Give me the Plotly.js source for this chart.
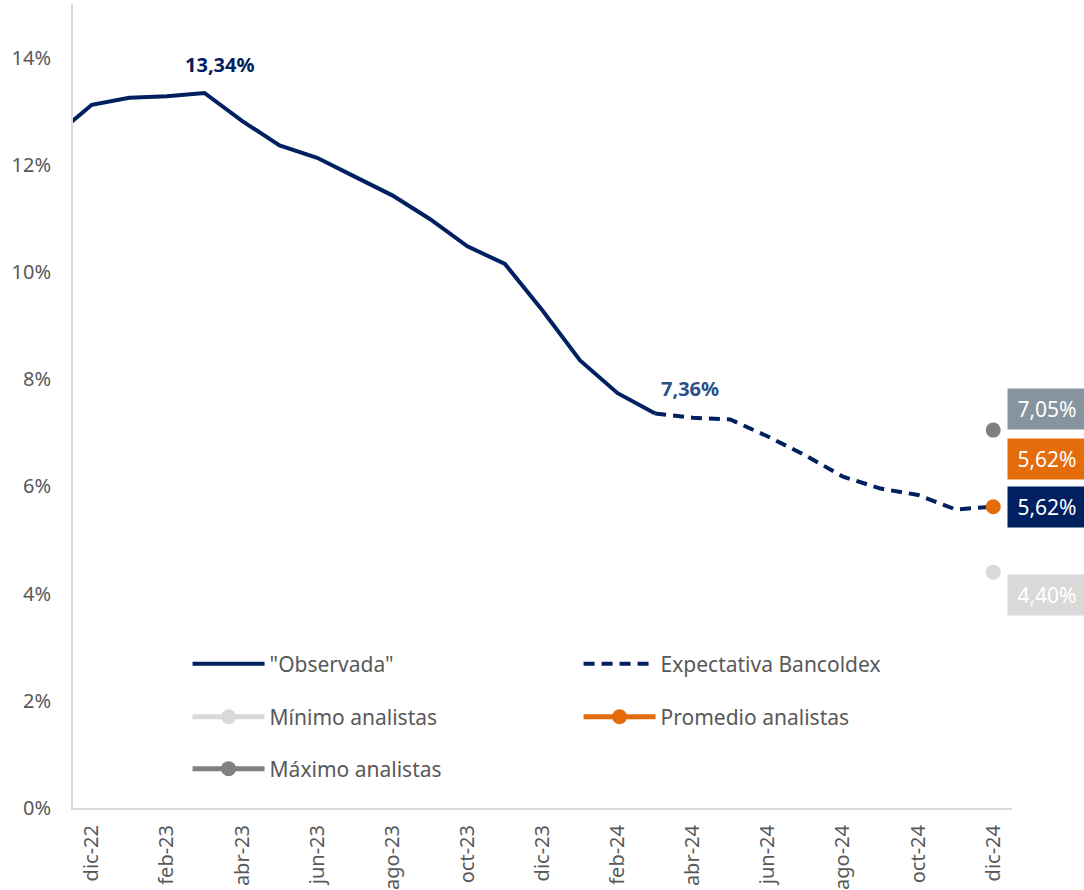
<!DOCTYPE html>
<html>
<head>
<meta charset="utf-8">
<script src="https://cdn.plot.ly/plotly-3.0.1.min.js"></script>
<style>
  html, body { margin: 0; padding: 0; background: #ffffff; }
  #chart { width: 1084px; height: 890px; }
</style>
</head>
<body>
<div id="chart"></div>
<script>
// ---- Data ----
const months = ['nov-22','dic-22','ene-23','feb-23','mar-23','abr-23','may-23','jun-23','jul-23','ago-23','sep-23','oct-23','nov-23','dic-23',
                'ene-24','feb-24','mar-24','abr-24','may-24','jun-24','jul-24','ago-24','sep-24','oct-24','nov-24','dic-24'];
const observedMonths = months.slice(0, 17);           // nov-22 .. mar-24
const observedValues = [12.53, 13.12, 13.25, 13.28, 13.34, 12.82, 12.36, 12.13, 11.78, 11.43, 10.99, 10.48, 10.15, 9.28, 8.35, 7.74, 7.36];
const expectMonths = months.slice(16);                  // mar-24 .. dic-24
const expectValues = [7.36, 7.28, 7.25, 6.93, 6.58, 6.18, 5.96, 5.84, 5.57, 5.62];
const analystMonth = ['dic-24'];
const minAnalistas = [4.40];
const promAnalistas = [5.62];
const maxAnalistas = [7.05];
const tickLabels = months.filter((m, i) => i >= 1 && (i - 1) % 2 === 0); // dic-22, feb-23, ...
const yTicks = [0, 2, 4, 6, 8, 10, 12, 14];

// ---- Styles ----
const NAVY = '#002060';
const ORANGE = '#E46C0A';
const DARKGRAY = '#808080';
const LIGHTGRAY = '#D9D9D9';
const FONT = 'Noto Sans, Open Sans, sans-serif';
const TXT = '#595959';
const fmt = v => v.toFixed(2).replace('.', ',') + '%';

const traces = [
  { x: observedMonths, y: observedValues, name: '"Observada"', type: 'scatter', mode: 'lines',
    line: { color: NAVY, width: 4 }, legend: 'legend', hoverinfo: 'skip' },
  { x: expectMonths, y: expectValues, name: 'Expectativa Bancoldex', type: 'scatter', mode: 'lines',
    line: { color: NAVY, width: 4, dash: '11px,7px' }, legend: 'legend', hoverinfo: 'skip' },
  { x: analystMonth, y: minAnalistas, name: 'Mínimo analistas', type: 'scatter', mode: 'lines+markers',
    line: { color: LIGHTGRAY, width: 5 }, marker: { color: LIGHTGRAY, size: 15 }, legend: 'legend2' },
  { x: analystMonth, y: promAnalistas, name: 'Promedio analistas', type: 'scatter', mode: 'lines+markers',
    line: { color: ORANGE, width: 5 }, marker: { color: ORANGE, size: 15 }, legend: 'legend2' },
  { x: analystMonth, y: maxAnalistas, name: 'Máximo analistas', type: 'scatter', mode: 'lines+markers',
    line: { color: DARKGRAY, width: 5 }, marker: { color: DARKGRAY, size: 15 }, legend: 'legend3' }
];

const legendBase = {
  orientation: 'h', xref: 'paper', yref: 'paper', xanchor: 'left', yanchor: 'middle',
  x: 0.122, bgcolor: 'rgba(0,0,0,0)', borderwidth: 0,
  font: { family: FONT, size: 21, color: TXT },
  entrywidth: 304, entrywidthmode: 'pixels', itemwidth: 72, traceorder: 'normal'
};

const boxLabel = (val, bg, yshift) => ({
  xref: 'paper', yref: 'y', x: 1.037, y: val, xanchor: 'center', yanchor: 'middle',
  text: fmt(val), showarrow: false, yshift: yshift,
  width: 76, height: 38, bgcolor: bg,
  font: { family: FONT, size: 21, color: '#FFFFFF' }
});

const layout = {
  width: 1084, height: 890,
  margin: { l: 73, r: 72, t: 4, b: 82 },
  paper_bgcolor: '#FFFFFF', plot_bgcolor: '#FFFFFF',
  showlegend: true,
  xaxis: {
    type: 'category', categoryorder: 'array', categoryarray: months,
    range: [0.5, 25.5], tickmode: 'array', tickvals: tickLabels, ticktext: tickLabels,
    tickangle: -90, ticks: '', showgrid: false, zeroline: false,
    showline: true, linecolor: LIGHTGRAY, linewidth: 2,
    tickfont: { family: FONT, size: 20, color: TXT }, ticklabelstandoff: 7
  },
  yaxis: {
    range: [0, 15], tickmode: 'array', tickvals: yTicks, ticktext: yTicks.map(v => v + '%'),
    ticks: '', showgrid: false, zeroline: false,
    showline: true, linecolor: LIGHTGRAY, linewidth: 2,
    tickfont: { family: FONT, size: 20, color: TXT }, ticklabelstandoff: 16
  },
  legend: Object.assign({}, legendBase, { y: 0.179 }),
  legend2: Object.assign({}, legendBase, { y: 0.113 }),
  legend3: Object.assign({}, legendBase, { y: 0.0485 }),
  annotations: [
    { xref: 'x', yref: 'y', x: 'mar-23', y: observedValues[4], text: '<b>' + fmt(observedValues[4]) + '</b>',
      showarrow: false, xshift: 16, yshift: 28, font: { family: FONT, size: 20, color: NAVY } },
    { xref: 'x', yref: 'y', x: 'mar-24', y: observedValues[16], text: '<b>' + fmt(observedValues[16]) + '</b>',
      showarrow: false, xshift: 35, yshift: 25, font: { family: FONT, size: 20, color: '#2B5088' } },
    boxLabel(maxAnalistas[0], '#86949F', 21),
    boxLabel(promAnalistas[0], ORANGE, 48),
    boxLabel(expectValues[expectValues.length - 1], NAVY, 0),
    boxLabel(minAnalistas[0], LIGHTGRAY, -23)
  ]
};

Plotly.newPlot('chart', traces, layout, { displayModeBar: false, staticPlot: true });
</script>
</body>
</html>
